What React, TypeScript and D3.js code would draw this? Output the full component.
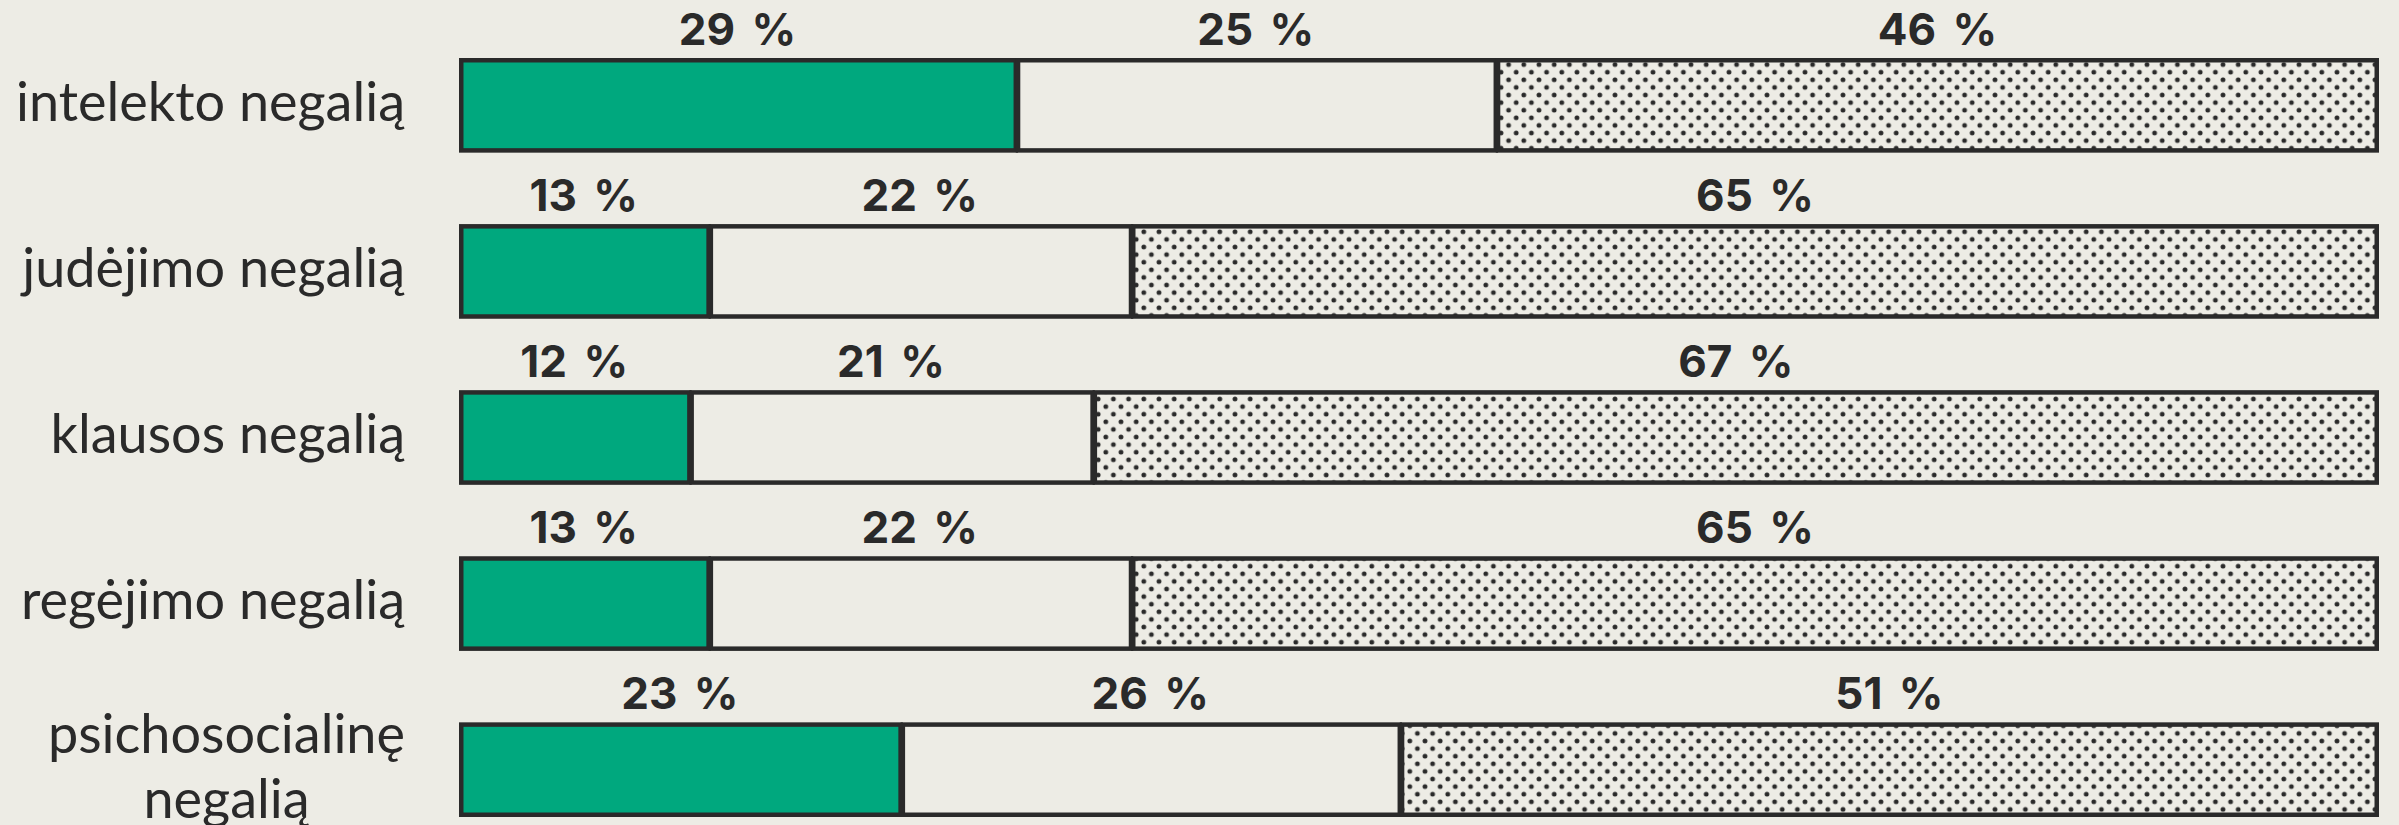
import React, { useEffect, useRef } from "react";
import * as d3 from "d3";

const categories = [
  "intelekto negalią",
  "judėjimo negalią",
  "klausos negalią",
  "regėjimo negalią",
  "psichosocialinę negalią",
];
const greenValues = [29, 13, 12, 13, 23];
const middleValues = [25, 22, 21, 22, 26];
const dottedValues = [46, 65, 67, 65, 51];

const W = 2399;
const H = 825;
const BG = "#EDECE5";
const GREEN = "#00A87E";
const INK = "#2A2A2A";

export default function App() {
  const ref = useRef<SVGSVGElement | null>(null);

  useEffect(() => {
    document.body.style.margin = "0";
    document.body.style.background = BG;
    const svg = d3.select(ref.current);
    svg.selectAll("*").remove();

    const defs = svg.append("defs");
    const T = 15.2;
    const pat = defs
      .append("pattern")
      .attr("id", "dots")
      .attr("patternUnits", "userSpaceOnUse")
      .attr("width", T)
      .attr("height", T);
    pat.append("rect").attr("width", T).attr("height", T).attr("fill", BG);
    [
      [T / 4, T / 4],
      [(3 * T) / 4, (3 * T) / 4],
    ].forEach(([cx, cy]) =>
      pat.append("circle").attr("cx", cx).attr("cy", cy).attr("r", 2.4).attr("fill", INK)
    );

    svg.append("rect").attr("width", W).attr("height", H).attr("fill", BG);

    const x = d3.scaleLinear().domain([0, 100]).range([459, 2379]);
    const y = d3
      .scaleBand<string>()
      .domain(categories)
      .range([58, 817])
      .paddingInner(0.43)
      .paddingOuter(0);

    const rows = categories.map((c, i) => {
      const vals = [greenValues[i], middleValues[i], dottedValues[i]];
      let acc = 0;
      const segs = vals.map((v, k) => {
        const s = { x0: acc, x1: acc + v, v, k };
        acc += v;
        return s;
      });
      return { c, segs };
    });

    const fills = [GREEN, BG, "url(#dots)"];
    const sw = 4.5;

    const g = svg.append("g");
    rows.forEach((row) => {
      const top = y(row.c)!;
      const bh = y.bandwidth();
      const rg = g.append("g");
      row.segs.forEach((s) => {
        rg.append("rect")
          .attr("x", x(s.x0) + sw / 2)
          .attr("y", top + sw / 2)
          .attr("width", x(s.x1) - x(s.x0) - sw / 2 - (s.k < 2 ? 0 : sw / 2))
          .attr("height", bh - sw)
          .attr("fill", fills[s.k])
          .attr("stroke", INK)
          .attr("stroke-width", sw);
        rg.append("text")
          .attr("x", (x(s.x0) + x(s.x1)) / 2)
          .attr("y", top - 13)
          .attr("text-anchor", "middle")
          .attr("font-family", "Inter, Roboto, sans-serif")
          .attr("font-weight", 700)
          .attr("font-size", 44)
          .attr("word-spacing", 6)
          .attr("fill", INK)
          .text(`${s.v} %`);
      });

      // category label
      const cy = top + bh / 2;
      const words = row.c.split(" ");
      const lines = row.c.length > 18 ? [words.slice(0, -1).join(" "), words[words.length - 1]] : [row.c];
      const lh = 65;
      const labelRight = 405;
      const tg = rg.append("g");
      const texts = lines.map((ln, li) =>
        tg
          .append("text")
          .attr("y", cy + 15.5 + (li - (lines.length - 1) / 2) * lh)
          .attr("font-family", "Lato, 'Noto Sans', sans-serif")
          .attr("font-size", 54)
          .attr("fill", INK)
          .text(ln)
      );
      const widths = texts.map((t) => (t.node() as SVGTextElement).getComputedTextLength());
      const maxW = Math.max(...widths);
      const center = labelRight - maxW / 2;
      texts.forEach((t) => t.attr("x", center).attr("text-anchor", "middle"));
    });
  }, []);

  return <svg ref={ref} width={W} height={H} style={{ display: "block" }} />;
}
